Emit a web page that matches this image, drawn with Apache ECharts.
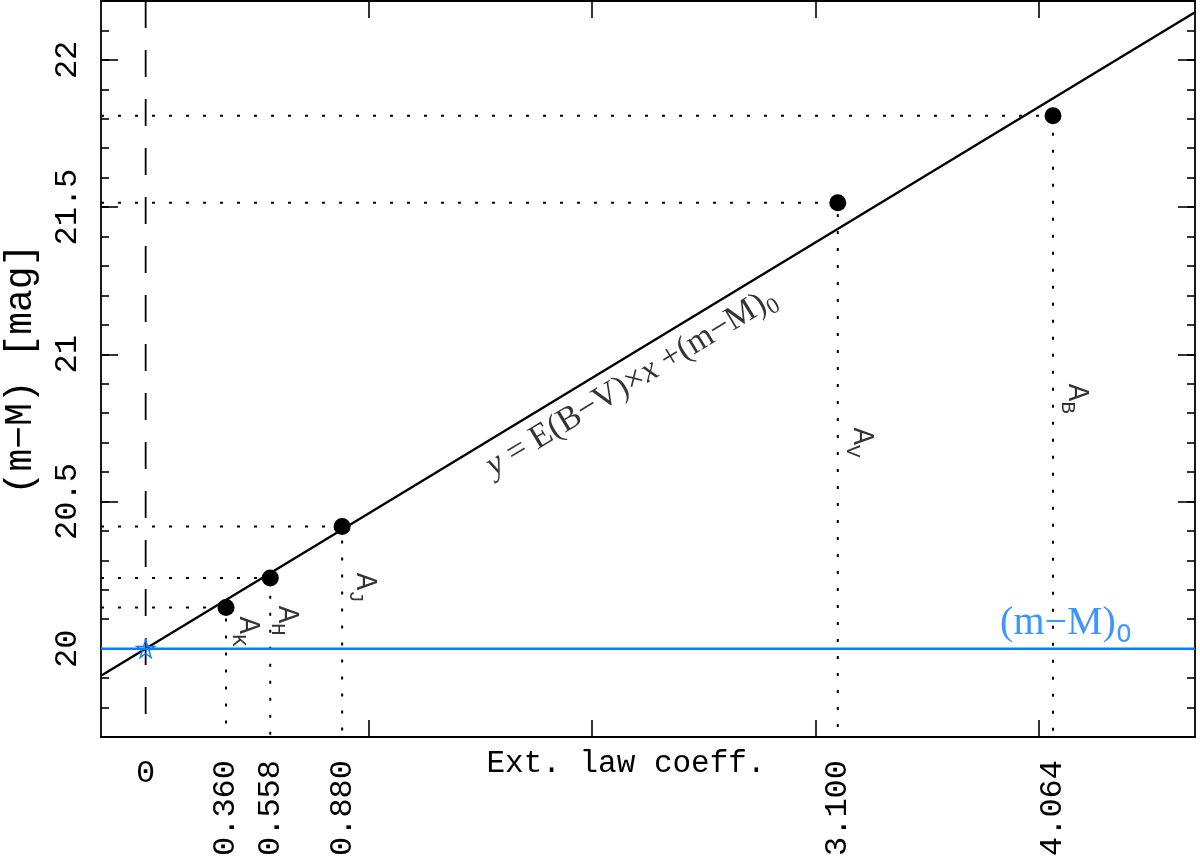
<!DOCTYPE html>
<html lang="en">
<head>
<meta charset="UTF-8">
<title>Ext. law coeff.</title>
<script src="https://cdn.jsdelivr.net/npm/echarts@6/dist/echarts.min.js"></script>
<style>
  html, body { margin: 0; padding: 0; background: #fff; }
  #main { width: 1200px; height: 863px; }
</style>
</head>
<body>
<div id="main"></div>
<script>
  // bands, extinction law coefficients and measured (m-M) per band
  var bands = ['K', 'H', 'J', 'V', 'B'];
  var coeffs = [0.360, 0.558, 0.880, 3.100, 4.064];
  var moduli = [20.14, 20.24, 20.415, 21.515, 21.81];

  // fitted line, read at both plot edges
  var fitX = [-0.2, 4.7];
  var fitY = [19.908, 22.162];
  var trueModulus = 20;   // (m-M)_0

  // axes
  var xRange = [-0.2, 4.7];
  var yRange = [19.7, 22.2];
  var xMajor = [1, 2, 3, 4];
  var yMajor = [20, 20.5, 21, 21.5, 22];
  var xTickLabels = [0.360, 0.558, 0.880, 3.100, 4.064];

  // where the A_x names sit (data coords)
  var bandLabelX = [0.457, 0.632, 0.981, 3.208, 4.171];
  var bandLabelY = [20.058, 20.095, 20.207, 20.70, 20.849];
  var eqnAt = [2.175, 20.905];
  var muLabelAt = [4.122, 20.085];

  var BLUE = '#0a7cff';
  var MONO = '"Liberation Mono", monospace';
  var SERIF = '"Liberation Serif", serif';
  var star = 'path://M50,2 L61,37 L98,37 L68,59 L79,95 L50,73 L21,95 L32,59 L2,37 L39,37 Z';

  function plain(extra) {
    var o = {
      type: 'value', min: xRange[0], max: xRange[1],
      axisLine: { show: false, onZero: false }, axisTick: { show: false }, axisLabel: { show: false },
      splitLine: { show: false }
    };
    for (var k in extra) o[k] = extra[k];
    return o;
  }
  function plainY(extra) {
    var o = plain(extra);
    o.min = yRange[0]; o.max = yRange[1];
    return o;
  }

  var axisLine = { show: true, onZero: false, lineStyle: { color: '#000', width: 1.8 } };
  var tickStyle = { color: '#000', width: 1.6 };

  var xAxis = [
    plain({
      position: 'bottom',
      axisLine: axisLine,
      axisTick: { show: true, inside: true, length: 17, customValues: xMajor, lineStyle: tickStyle },
      axisLabel: {
        show: true, customValues: xTickLabels, rotate: 90, margin: 23,
        fontFamily: MONO, fontSize: 32, color: '#000',
        formatter: function (v) { return v.toFixed(3); }
      },
      name: 'Ext. law coeff.', nameLocation: 'middle', nameGap: 11, nameMoveOverlap: false,
      nameTextStyle: { fontFamily: MONO, fontSize: 31, color: '#000', padding: [0, 44, 0, 0] }
    }),
    plain({
      position: 'bottom',
      axisLabel: { show: true, customValues: [0], margin: 21, fontFamily: MONO, fontSize: 32, color: '#000' }
    }),
    plain({
      position: 'top',
      axisLine: axisLine,
      axisTick: { show: true, inside: true, length: 17, customValues: xMajor, lineStyle: tickStyle }
    })
  ];

  var yAxis = [
    plainY({
      position: 'left',
      axisLine: axisLine,
      axisTick: { show: true, inside: true, length: 17, customValues: yMajor, lineStyle: tickStyle },
      axisLabel: {
        show: true, customValues: yMajor, rotate: 90, margin: 17,
        align: 'center', verticalAlign: 'bottom',
        fontFamily: MONO, fontSize: 32, color: '#000'
      },
      name: '(m\u2212M) [mag]', nameLocation: 'middle', nameGap: 61, nameMoveOverlap: false,
      nameTextStyle: { fontFamily: MONO, fontSize: 38, color: '#000' }
    }),
    plainY({
      position: 'left', interval: 0.1,
      axisTick: { show: true, inside: true, length: 8, lineStyle: tickStyle }
    }),
    plainY({
      position: 'right',
      axisLine: axisLine,
      axisTick: { show: true, inside: true, length: 17, customValues: yMajor, lineStyle: tickStyle }
    }),
    plainY({
      position: 'right', interval: 0.1,
      axisTick: { show: true, inside: true, length: 8, lineStyle: tickStyle }
    })
  ];

  var series = [];

  // dotted guides: left axis -> point -> bottom axis
  for (var i = 0; i < coeffs.length; i++) {
    series.push({
      type: 'line', symbol: 'none', silent: true, z: 1,
      data: [[xRange[0], moduli[i]], [coeffs[i], moduli[i]], [coeffs[i], yRange[0]]],
      lineStyle: { color: '#000', width: 2, type: [3, 14] }
    });
  }

  // x = 0 dashed
  series.push({
    type: 'line', symbol: 'none', silent: true, z: 1,
    data: [[0, yRange[1]], [0, yRange[0]]],
    lineStyle: { color: '#000', width: 1.8, type: [27, 22] }
  });

  // fit line
  series.push({
    type: 'line', symbol: 'none', silent: true, z: 2,
    data: [[fitX[0], fitY[0]], [fitX[1], fitY[1]]],
    lineStyle: { color: '#000', width: 2.4 }
  });

  // (m-M)_0 level
  series.push({
    type: 'line', symbol: 'none', silent: true, z: 3,
    data: [[xRange[0], trueModulus], [xRange[1], trueModulus]],
    lineStyle: { color: BLUE, width: 2.4 }
  });

  // measured points
  series.push({
    type: 'scatter', symbol: 'circle', symbolSize: 17, z: 4,
    data: coeffs.map(function (c, k) { return [c, moduli[k]]; }),
    itemStyle: { color: '#000', opacity: 1 }
  });

  // star at x = 0
  series.push({
    type: 'scatter', symbol: star, symbolSize: 18, z: 5,
    data: [[0, trueModulus]],
    itemStyle: { color: 'rgba(0,0,0,0)', borderColor: BLUE, borderWidth: 1.4, opacity: 1 }
  });

  // band names
  series.push({
    type: 'scatter', symbolSize: 1, z: 6,
    itemStyle: { color: 'rgba(0,0,0,0)' },
    data: bands.map(function (b, k) { return { value: [bandLabelX[k], bandLabelY[k]], name: b }; }),
    label: {
      show: true, position: 'inside', rotate: -90,
      formatter: function (p) { return '{a|A}{s|' + p.name + '}'; },
      rich: {
        a: { fontFamily: MONO, fontSize: 29, color: '#000', lineHeight: 40 },
        s: { fontFamily: MONO, fontSize: 21, color: '#000', verticalAlign: 'bottom', lineHeight: 21 }
      }
    }
  });

  // equation along the line
  series.push({
    type: 'scatter', symbolSize: 1, z: 6,
    itemStyle: { color: 'rgba(0,0,0,0)' },
    data: [eqnAt],
    label: {
      show: true, position: 'inside', rotate: 31.26,
      formatter: '{i|y}{r| = E(B\u2212V)\u00d7}{i|x}{r| +(m\u2212M)}{s|0}',
      rich: {
        r: { fontFamily: SERIF, fontSize: 34, color: '#000', lineHeight: 42 },
        i: { fontFamily: SERIF, fontSize: 34, fontStyle: 'italic', color: '#000', lineHeight: 42 },
        s: { fontFamily: SERIF, fontSize: 23, color: '#000', verticalAlign: 'bottom', lineHeight: 24 }
      }
    }
  });

  // (m-M)_0 text
  series.push({
    type: 'scatter', symbolSize: 1, z: 6,
    itemStyle: { color: 'rgba(0,0,0,0)' },
    data: [muLabelAt],
    label: {
      show: true, position: 'inside',
      formatter: '{r|(m\u2212M)}{s|0}',
      rich: {
        r: { fontFamily: SERIF, fontSize: 40, color: BLUE, lineHeight: 48 },
        s: { fontFamily: '"DejaVu Sans", sans-serif', fontSize: 25, color: BLUE, verticalAlign: 'bottom', lineHeight: 27 }
      }
    }
  });

  var chart = echarts.init(document.getElementById('main'));
  chart.setOption({
    animation: false,
    backgroundColor: '#fff',
    grid: { left: 101, right: 5, top: 1, bottom: 126, outerBoundsMode: 'none' },
    xAxis: xAxis,
    yAxis: yAxis,
    series: series
  });
</script>
</body>
</html>
